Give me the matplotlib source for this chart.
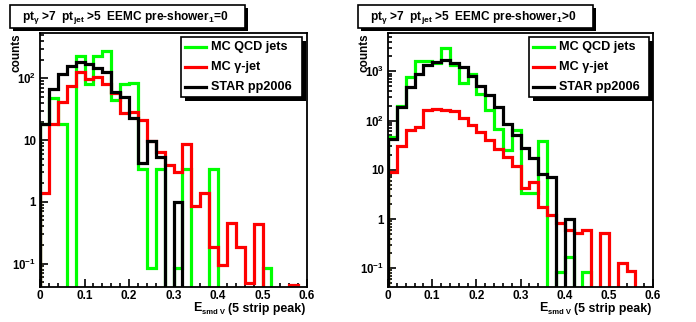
import numpy as np
import matplotlib
matplotlib.use('Agg')
import matplotlib.pyplot as plt
from matplotlib.transforms import Affine2D
from matplotlib.patches import Rectangle
from matplotlib.lines import Line2D
from matplotlib.ticker import FixedLocator, FuncFormatter, LogLocator, NullFormatter, MultipleLocator

plt.rcParams['font.family'] = ['Liberation Sans', 'DejaVu Sans']
plt.rcParams['font.weight'] = 'bold'
plt.rcParams['mathtext.fontset'] = 'custom'
plt.rcParams['mathtext.rm'] = 'Liberation Sans:bold'
plt.rcParams['mathtext.bf'] = 'Liberation Sans:bold'
plt.rcParams['mathtext.it'] = 'Liberation Sans:bold'
plt.rcParams['mathtext.default'] = 'bf'

# ---------------- data ----------------
bin_lo, bin_hi, n_bins = 0.0, 0.6, 30

left_qcd = [18, 48, 18, 0, 231, 80, 231, 277, 45, 82, 85, 3.4, 0.085, 3.4, 0,
            0.085, 3.4, 0, 0, 3.4, 0, 0, 0, 0, 0, 0.085, 0, 0, 0, 0]
left_gjet = [1.4, 18, 42, 76, 128, 97, 104, 80, 59, 27, 29, 21, 9.5, 6.5, 3.9,
             3.0, 8.5, 0.87, 1.37, 0.187, 0.095, 0.45, 0.187, 0.048, 0.43, 0, 0, 0, 0.045, 0]
left_star = [18, 67, 117, 159, 182, 170, 146, 126, 60, 50, 23, 4.3, 9.7, 5.3, 0,
             1.0, 0, 0, 0, 0, 0, 0, 0, 0, 0, 0, 0, 0, 0, 0]

right_qcd = [46, 197, 768, 1620, 1620, 1475, 3030, 1325, 590, 883, 352, 166, 68, 25, 65,
             3.3, 3.4, 38, 0, 0.083, 0.168, 0, 0.083, 0, 0, 0, 0, 0, 0, 0]
right_gjet = [9.0, 31, 65, 74, 166, 175, 166, 154, 115, 82, 58, 40, 26, 18, 11.7,
              4.3, 5.6, 1.75, 1.22, 0.84, 0.61, 0.53, 0.59, 0, 0.53, 0, 0.127, 0.086, 0, 0]
right_star = [43, 188, 480, 898, 1324, 1525, 1675, 1480, 1222, 791, 502, 325, 188, 86, 52,
              28, 17.6, 8.3, 7.1, 0, 1.0, 0, 0, 0, 0, 0, 0, 0, 0, 0]

series_labels = ['MC QCD jets', 'MC \u03b3-jet', 'STAR pp2006']
series_colors = ['#00ff00', '#ff0000', '#000000']
titles = [r'pt$_{\gamma}$ >7  pt$_{jet}$ >5  EEMC pre-shower$_{1}$=0',
          r'pt$_{\gamma}$ >7  pt$_{jet}$ >5  EEMC pre-shower$_{1}$>0']
ylims = [(0.0418, 543), (0.0416, 6000)]
xlabel_main, xlabel_sub, xlabel_tail = 'E', 'smd V', '(5 strip peak)'
ylabel = 'counts'
xticks = [0, 0.1, 0.2, 0.3, 0.4, 0.5, 0.6]

# ---------------- figure ----------------
W, H = 696, 322
fig = plt.figure(figsize=(W / 100, H / 100), dpi=100)
fig.patch.set_facecolor('white')
pxT = Affine2D().scale(1 / W, -1 / H).translate(0, 1) + fig.transFigure

edges = np.linspace(bin_lo, bin_hi, n_bins + 1)
panels = [
    dict(x0=40, x1=307, data=[left_qcd, left_gjet, left_star], title=titles[0], ylim=ylims[0],
         tbox=(10, 5, 235, 23), lbox=(180.7, 37, 121, 59.7)),
    dict(x0=388, x1=653, data=[right_qcd, right_gjet, right_star], title=titles[1], ylim=ylims[1],
         tbox=(358, 5, 235, 23), lbox=(528.7, 37, 120, 59.7)),
]
y_top, y_bot = 33, 287

def logfmt(v, pos):
    e = int(round(np.log10(v)))
    if e == 0:
        return '1'
    if e == 1:
        return '10'
    return r'$10^{%d}$' % e

for p in panels:
    ax = fig.add_axes([p['x0'] / W, 1 - y_bot / H, (p['x1'] - p['x0']) / W, (y_bot - y_top) / H])
    ax.set_yscale('log')
    floor = 1e-5
    for vals, col, z in zip(p['data'], series_colors, [2, 3, 4]):
        v = np.array(vals, dtype=float)
        v = np.where(v > 0, v, floor)
        ax.stairs(v, edges, baseline=floor, color=col, lw=2.3, zorder=z,
                  joinstyle='miter')
    ax.set_xlim(bin_lo, bin_hi)
    ax.set_ylim(*p['ylim'])
    for s in ax.spines.values():
        s.set_linewidth(1.3)
        s.set_zorder(6)
    ax.xaxis.set_major_locator(FixedLocator(xticks))
    ax.xaxis.set_minor_locator(MultipleLocator(0.02))
    ax.xaxis.set_major_formatter(FuncFormatter(lambda v, pos: f'{v:g}'))
    ax.yaxis.set_major_locator(LogLocator(base=10, numticks=20))
    ax.yaxis.set_minor_locator(LogLocator(base=10, subs=np.arange(2, 10), numticks=20))
    ax.yaxis.set_major_formatter(FuncFormatter(logfmt))
    ax.yaxis.set_minor_formatter(NullFormatter())
    ax.tick_params(which='both', direction='in', top=False, right=False, width=1.2)
    ax.tick_params(which='major', length=6)
    ax.tick_params(which='minor', length=3)
    ax.tick_params(axis='x', which='major', labelsize=8.5, pad=2.5)
    ax.tick_params(axis='y', which='major', labelsize=8.3, pad=3)
    for lab in ax.get_xticklabels() + ax.get_yticklabels():
        lab.set_fontweight('bold')

    # axis titles
    xr = p['x1'] - 2
    fig.text(xr, 309, xlabel_tail, transform=pxT, ha='right', va='center',
             fontsize=8.9, fontweight='bold')
    fig.text(xr - 80, 312.5, xlabel_sub, transform=pxT, ha='right', va='center',
             fontsize=5.5, fontweight='bold')
    fig.text(xr - 103, 308, xlabel_main, transform=pxT, ha='right', va='center',
             fontsize=9, fontweight='bold')
    fig.text(p['x0'] - 23, y_top, ylabel, transform=pxT, ha='center', va='top',
             rotation=90, fontsize=8.5, fontweight='bold')

    # title box with shadow
    tx, ty, tw, th = p['tbox']
    fig.add_artist(Rectangle((tx + 3, ty + 3), tw, th, transform=pxT, facecolor='black',
                             edgecolor='black', lw=0, zorder=10))
    fig.add_artist(Rectangle((tx, ty), tw, th, transform=pxT, facecolor='white',
                             edgecolor='black', lw=1.2, zorder=11))
    fig.text(tx + tw / 2 - 2, ty + th / 2 + 1, p['title'], transform=pxT, ha='center',
             va='center', fontsize=8.6, fontweight='bold', zorder=12)

    # legend box with shadow
    lx, ly, lw_, lh = p['lbox']
    fig.add_artist(Rectangle((lx + 4, ly + 4), lw_, lh, transform=pxT, facecolor='black',
                             edgecolor='black', lw=0, zorder=10))
    fig.add_artist(Rectangle((lx, ly), lw_, lh, transform=pxT, facecolor='white',
                             edgecolor='black', lw=1.2, zorder=11))
    for i, (lab, col) in enumerate(zip(series_labels, series_colors)):
        yy = ly + 9.7 + 20 * i
        fig.add_artist(Line2D([lx + 4.5, lx + 25.5], [yy, yy], transform=pxT, color=col,
                              lw=2.3, zorder=12))
        fig.text(lx + 30, yy, lab, transform=pxT, ha='left', va='center', fontsize=9.1,
                 fontweight='bold', zorder=12)

fig.savefig('out.png', dpi=100, facecolor='white')
